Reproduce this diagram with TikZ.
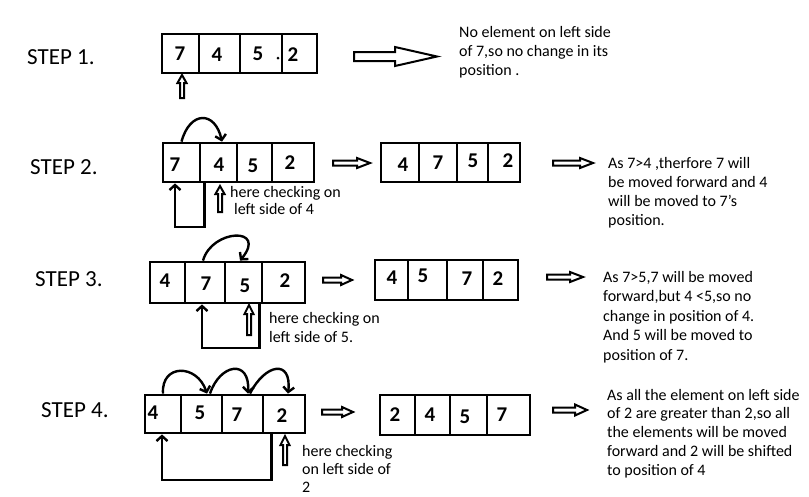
\documentclass[tikz,border=0pt]{standalone}
\usepackage{fontspec}
\setmainfont{Carlito}
\usetikzlibrary{arrows.meta}
\newcommand\mytxt[1]{\begin{tabular}[t]{@{}l@{}}#1\end{tabular}}
% hollow right arrow: x0, y, length, shaft half, head half, head length
\newcommand\harr[6]{\draw[hollow] (#1,{#2-#4}) -- ({#1+#3-#6},{#2-#4}) -- ({#1+#3-#6},{#2-#5}) -- ({#1+#3},#2) -- ({#1+#3-#6},{#2+#5}) -- ({#1+#3-#6},{#2+#4}) -- (#1,{#2+#4}) -- cycle;}
% hollow up arrow: x, ybottom, length, shaft half, head half, head length
\newcommand\uarr[6]{\draw[hollow] ({#1-#4},#2) -- ({#1-#4},{#2-#3+#6}) -- ({#1-#5},{#2-#3+#6}) -- (#1,{#2-#3}) -- ({#1+#5},{#2-#3+#6}) -- ({#1+#4},{#2-#3+#6}) -- ({#1+#4},#2) -- cycle;}
\begin{document}
\begin{tikzpicture}[x=1pt,y=-1pt,
  cell/.style n args={2}{draw, line width=2.8pt, inner sep=0pt, minimum width=#1pt, minimum height=#2pt},
  digit/.style={font=\fontsize{21}{24}\selectfont\bfseries, inner sep=0pt},
  steplabel/.style={font=\fontsize{23}{27}\selectfont, anchor=base west, inner sep=0pt},
  notetext/.style={font=\fontsize{16}{19}\selectfont, anchor=base west, inner sep=0pt},
  conn/.style={line width=2.4pt, -{Straight Barb[length=5pt,width=11pt]}},
  hollow/.style={line width=2pt, line join=miter}]
\fill[white] (0,0) rectangle (809,496);
\useasboundingbox (0,0) rectangle (809,496);

% ---------- STEP 1 ----------
\node[steplabel] (l1) at (27,64) {STEP 1.};
\node[cell={37}{39}] (a1) at (180.5,53.5) {};
\node[cell={41}{39}] (a2) at (219.5,53.5) {};
\node[cell={42}{39}] (a3) at (261,53.5) {};
\node[cell={35}{39}] (a4) at (299.5,53.5) {};
\node[digit] (a1t) at (180,54) {7};
\node[digit] (a2t) at (217,55) {4};
\node[digit] (a3t) at (258,54) {5};
\node[digit] (a4t) at (293,55) {2};
\fill (278,58) circle (1.5pt);
\uarr{182}{98}{23}{2}{4.5}{8}
\harr{354}{56.5}{83}{4.5}{9.5}{42}
\node[notetext] (n1) at (459,37) {\mytxt{No element on left side\\of 7,so no change in its\\position .}};

% ---------- STEP 2 ----------
\node[steplabel] (l2) at (30,174) {STEP 2.};
\node[cell={37}{39}] (b1) at (181.5,162.5) {};
\node[cell={37}{39}] (b2) at (218.5,162.5) {};
\node[cell={35}{39}] (b3) at (254.5,162.5) {};
\node[cell={42}{39}] (b4) at (293,162.5) {};
\node[digit] (b1t) at (175,165) {7};
\node[digit] (b2t) at (219,165) {4};
\node[digit] (b3t) at (253,166) {5};
\node[digit] (b4t) at (290,163) {2};
\draw[conn] (b1.north) .. controls +(8.5,-31) and +(-7,-31) .. ([xshift=3.5pt]b2.north);
\draw[conn] ([xshift=3pt]b1.south east) |- (175,227) -- ([xshift=-6.5pt]b1.south);
\uarr{220}{212}{26}{2}{4.5}{8}
\node[notetext] (h2) at (230,197) {\fontsize{16}{17.5}\selectfont\mytxt{here checking on\\\hspace{4pt}left side of 4}};
\harr{333}{163}{37}{2.5}{5}{13}
\node[cell={38}{39}] (br1) at (400,162.5) {};
\node[cell={38}{39}] (br2) at (438,162.5) {};
\node[cell={31}{39}] (br3) at (472.5,162.5) {};
\node[cell={32}{39}] (br4) at (504,162.5) {};
\node[digit] (br1t) at (403,165) {4};
\node[digit] (br2t) at (438,163) {7};
\node[digit] (br3t) at (473,161) {5};
\node[digit] (br4t) at (508,161) {2};
\harr{553}{163}{40}{2.5}{5}{13}
\node[notetext] (n2) at (608,168) {\mytxt{As 7>4 ,therfore 7 will\\be moved forward and 4\\will be moved to 7's\\position.}};

% ---------- STEP 3 ----------
\node[steplabel] (l3) at (35,286) {STEP 3.};
\node[cell={35}{41}] (c1) at (167.5,282.5) {};
\node[cell={40}{41}] (c2) at (205,282.5) {};
\node[cell={37}{41}] (c3) at (243.5,282.5) {};
\node[cell={43}{41}] (c4) at (283.5,282.5) {};
\node[digit] (c1t) at (165,281) {4};
\node[digit] (c2t) at (206,284) {7};
\node[digit] (c3t) at (245,286) {5};
\node[digit] (c4t) at (285,281) {2};
\draw[conn] ([xshift=-2pt]c2.north) .. controls +(9,-32) and +(28,-34) .. ([xshift=-3.5pt]c3.north);
\draw[conn] ([xshift=-4pt]c3.south east) |- (202,348) -- ([xshift=-3pt]c2.south);
\uarr{249}{335}{30}{2}{4.5}{9}
\node[notetext] (h3) at (269,323) {\mytxt{here checking on\\left side of 5.}};
\harr{323}{280}{29}{2.5}{5}{11}
\node[cell={33}{40}] (cr1) at (391.5,280) {};
\node[cell={39}{40}] (cr2) at (427.5,280) {};
\node[cell={36}{40}] (cr3) at (465,280) {};
\node[cell={35}{40}] (cr4) at (500.5,280) {};
\node[digit] (cr1t) at (392,278) {4};
\node[digit] (cr2t) at (423,276) {5};
\node[digit] (cr3t) at (467,279) {7};
\node[digit] (cr4t) at (498,279) {2};
\harr{547}{277}{36}{2.5}{5}{13}
\node[notetext] (n3) at (603,282) {\fontsize{16}{19.5}\selectfont\mytxt{As 7>5,7 will be moved\\forward,but 4 <5,so no\\change in position of 4.\\And 5 will be moved to\\position of 7.}};

% ---------- STEP 4 ----------
\node[steplabel] (l4) at (41,417) {STEP 4.};
\node[cell={36}{38}] (d1) at (163,414) {};
\node[cell={41}{38}] (d2) at (201.5,414) {};
\node[cell={41}{38}] (d3) at (242.5,414) {};
\node[cell={42}{38}] (d4) at (284,414) {};
\node[digit] (d1t) at (153,413) {4};
\node[digit] (d2t) at (200,413) {5};
\node[digit] (d3t) at (237,415) {7};
\node[digit] (d4t) at (282,416) {2};
\draw[conn] (d1.north) .. controls +(-2,-30) and +(-10,-30) .. ([xshift=5.5pt]d2.north);
\draw[conn] ([xshift=8.5pt]d2.north) .. controls +(10,-30) and +(2,-35) .. ([xshift=5.5pt]d3.north);
\draw[conn] ([xshift=7.5pt]d3.north) .. controls +(15,-30) and +(4,-35) .. ([xshift=4pt]d4.north);
\draw[conn] ([xshift=10pt]d4.south west) |- (162,480) -- ([xshift=-1pt]d1.south);
\uarr{285}{465}{29}{2}{4.5}{9}
\node[notetext] (h4) at (302,456) {\fontsize{16}{18}\selectfont\mytxt{here checking\\on left side of\\2}};
\harr{322}{412}{31}{2.5}{5}{11}
\node[cell={35}{40}] (dr1) at (397.5,415) {};
\node[cell={35}{40}] (dr2) at (432.5,415) {};
\node[cell={37}{40}] (dr3) at (468.5,415) {};
\node[cell={43}{40}] (dr4) at (508.5,415) {};
\node[digit] (dr1t) at (395,415) {2};
\node[digit] (dr2t) at (430,415) {4};
\node[digit] (dr3t) at (465,417) {5};
\node[digit] (dr4t) at (502,415) {7};
\harr{553}{410}{34}{2.5}{5.5}{12}
\node[notetext] (n4) at (607,400) {\fontsize{16}{18.8}\selectfont\mytxt{As all the element on left side\\of 2 are greater than 2,so all\\the elements will be moved\\forward and 2 will be shifted\\to position of 4}};
\end{tikzpicture}
\end{document}
